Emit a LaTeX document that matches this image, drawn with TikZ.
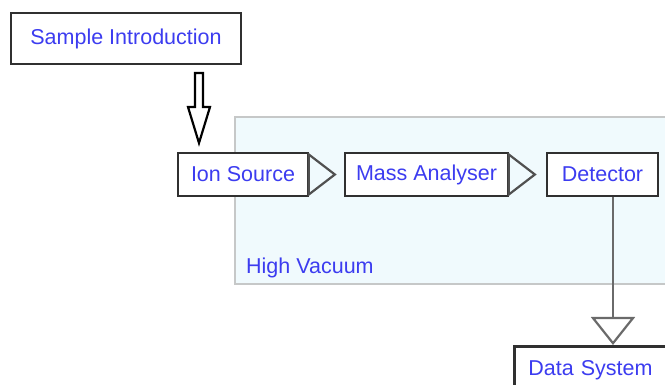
\documentclass[tikz,border=0pt]{standalone}
\usepackage{fontspec}
\setmainfont{Liberation Sans}
\usetikzlibrary{arrows.meta,calc}

\definecolor{labelblue}{HTML}{3C3CF0}
\definecolor{boxline}{HTML}{303030}
\definecolor{vacfill}{HTML}{F0FAFD}
\definecolor{vacline}{HTML}{C6C8C8}
\definecolor{linkgray}{HTML}{6A6A6A}
\definecolor{tipgray}{HTML}{505050}

\tikzset{
  stage/.style={draw=boxline, line width=2.6pt, fill=white, inner sep=0pt,
    minimum height=43pt, text=labelblue,
    font=\fontsize{21.5pt}{24pt}\selectfont},
  flow/.style={draw=tipgray, line width=2.2pt,
    -{Triangle[open, length=#1, width=44pt, line width=2.2pt]}},
  flow/.default=30pt
}

\begin{document}
\begin{tikzpicture}[x=1pt, y=-1pt]
  \useasboundingbox (0,0) rectangle (665,385);
  \clip (0,0) rectangle (665,385);

  % high-vacuum enclosure
  \draw[fill=vacfill, draw=vacline, line width=2.5pt] (235,117) rectangle (720,284);
  \node[anchor=base west, text=labelblue, inner sep=0pt,
        font=\fontsize{21.5pt}{24pt}\selectfont] (hv) at (246,274) {High Vacuum};

  % stages
  \node[stage, minimum width=230pt, minimum height=51pt] (sample) at (126,38.5) {Sample Introduction};
  \node[stage, minimum width=130pt] (ion)  at (243,174.5) {Ion Source};
  \node[stage, minimum width=163pt] (mass) at (426.5,174.5) {Mass Analyser};
  \node[stage, minimum width=111pt] (det)  at (602.5,174.5) {Detector};
  \node[stage, anchor=north west, minimum width=170pt, minimum height=48pt,
        text width=142pt, align=left, inner xsep=14pt] (dsys) at (513,345) {Data System};

  % inlet: hollow block arrow
  \coordinate (feed) at (199,73);
  \draw[draw=black, line width=2.2pt, fill=white, line join=miter]
    ($(feed)+(-4,0)$) -- ($(feed)+(4,0)$) -- ($(feed)+(4,34)$) -- ($(feed)+(11,34)$)
    -- ($(feed)+(0,70)$) -- ($(feed)+(-11,34)$) -- ($(feed)+(-4,34)$) -- cycle;

  % ion path through the analyser
  \draw[flow=29pt, shorten >=7pt] (ion.east) -- (mass.west);
  \draw[flow=29pt, shorten >=9pt] (mass.east) -- (det.west);

  % signal to the data system
  \coordinate (tap) at ($(det.south)+(10.5,0)$);
  \draw[draw=linkgray, line width=2.4pt,
        -{Triangle[open, length=28pt, width=44pt, line width=2.2pt]}]
    (tap) -- (tap |- dsys.north);
\end{tikzpicture}
\end{document}
